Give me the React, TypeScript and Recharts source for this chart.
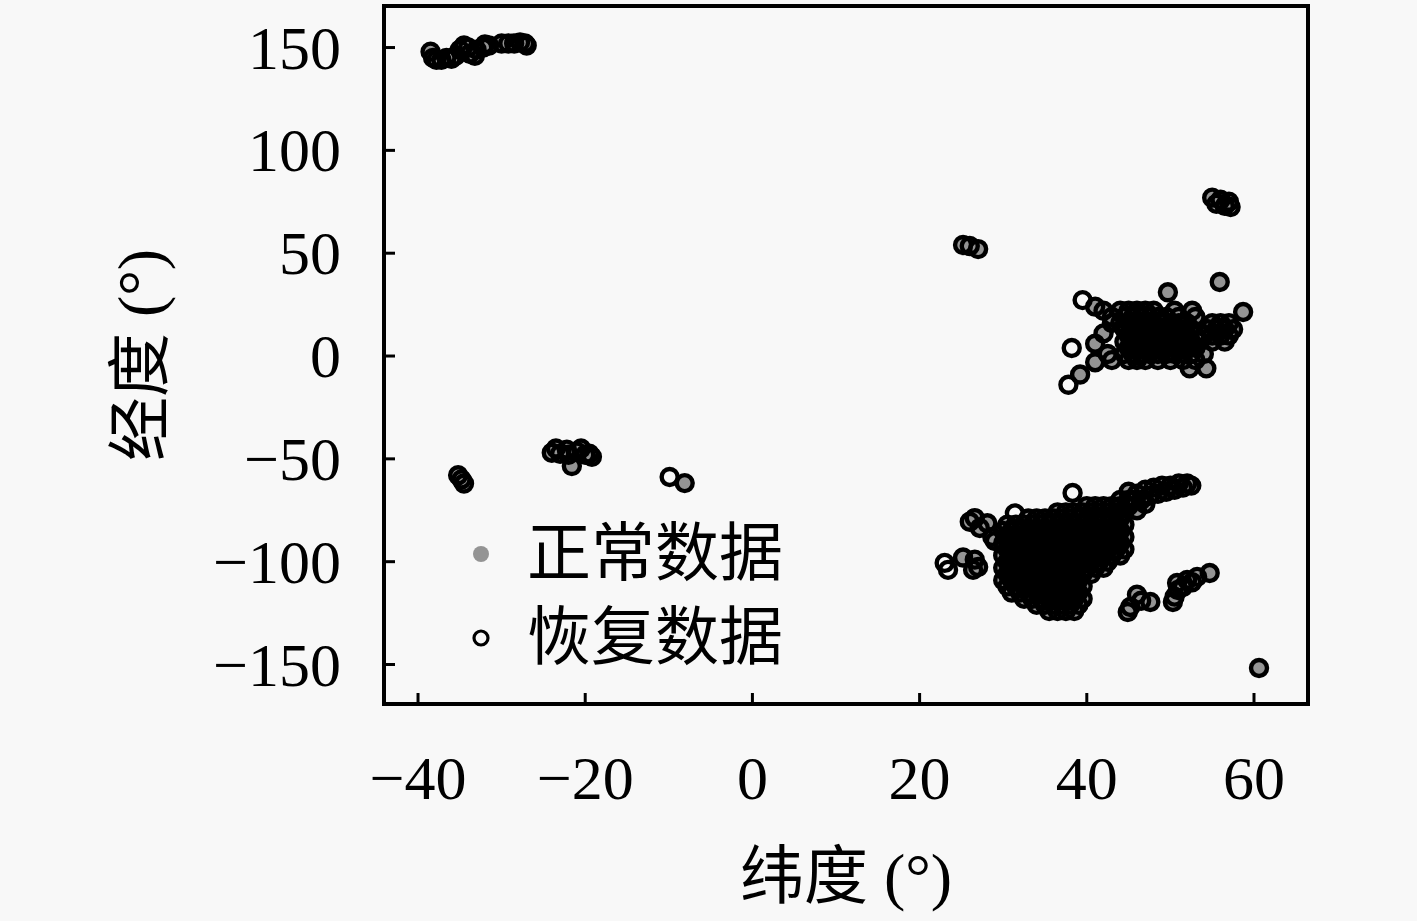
import React from 'react';
import { ScatterChart, Scatter, XAxis, YAxis, ReferenceArea, Legend, Label } from 'recharts';

// each point is [latitude, longitude]
type Pt = [number, number];

const xTicks = [-40, -20, 0, 20, 40, 60];
const yTicks = [-150, -100, -50, 0, 50, 100, 150];
const xDomain = [-44.07, 66.46];
const yDomain = [-169.2, 170.2];

const oceania: Pt[] = [
  [-38.5, 148], [-38.2, 145], [-37.8, 144], [-37.2, 144], [-36.6, 145], [-36, 144.5],
  [-35.5, 146], [-35, 149], [-34.5, 151], [-34, 150], [-33.8, 147], [-33.2, 146],
  [-33, 149], [-32.2, 150], [-32, 151.5], [-31.5, 151], [-30, 152], [-29.2, 152],
  [-28.5, 152], [-27.8, 152.5], [-27.2, 152], [-27, 151],
];

const southAmerica: Pt[] = [
  [-35.2, -58], [-34.8, -60], [-34.5, -62],
  [-24, -47], [-23.5, -45], [-23, -47.5], [-22.2, -45.5], [-22, -48], [-21.6, -53.5],
  [-21, -46.5], [-20.5, -45], [-20, -48], [-19.5, -47.5], [-19.2, -49],
  [-8.1, -61.8],
];

const westAsia: Pt[] = [[25.2, 54], [26, 53.5], [27, 52]];

const centralAsia: Pt[] = [[55, 77], [55.5, 74], [56, 76], [56.5, 73], [57, 75], [57.2, 72.5]];

// dense European cluster, rows of [longitude, latitudes]
const europeRows: [number, number[]][] = [
  [22, [44, 45, 46, 47, 48, 50.5, 52.6]],
  [19, [44.5, 45.5, 46.5, 47.5, 48.5, 49.5, 51, 53]],
  [16, [44, 45, 46, 47, 48, 49, 50, 51, 52, 55, 56, 57]],
  [13, [44.5, 45.5, 46.5, 47.5, 48.5, 49.5, 50.5, 51.5, 52.5, 54.5, 55.5, 56.5, 57.5]],
  [10, [45, 46, 47, 48, 49, 50, 51, 52, 53, 54, 55, 56, 57]],
  [7, [44.5, 45.5, 46.5, 47.5, 48.5, 49.5, 50.5, 51.5, 52.5, 53.5, 55, 56.5]],
  [4, [45, 46, 47, 48, 49, 50, 51, 52, 53]],
  [1, [44.5, 45.5, 46.5, 47.5, 48.5, 49.5, 50.5, 51.5, 52.5, 54]],
  [-2, [45, 46, 47, 48.5, 50, 51.5, 53]],
  [-6, [52.3, 54.3]],
];

const europeEdge: Pt[] = [
  [49.7, 31], [55.9, 36], [58.7, 21.4], [41, 24], [42, 22], [43, 19], [43, 16],
  [42, 11], [41, 6], [41, -3], [39.2, -9], [42.5, 1], [43, -2],
];

// dense North American cluster, rows of [longitude, latitudes]
const usRows: [number, number[]][] = [
  [-70, [44, 45]],
  [-73, [40, 41, 42, 43, 44, 45]],
  [-76, [36.5, 37.5, 38.5, 39.5, 40.5, 41.5, 42.5, 43.5, 44.5]],
  [-79, [33, 34, 35, 36, 37, 38, 39, 40, 41, 42, 43, 44]],
  [-82, [30.5, 31.5, 32.5, 33.5, 34.5, 35.5, 36.5, 37.5, 38.5, 39.5, 40.5, 41.5, 42.5, 43.5, 44.5]],
  [-85, [30, 31, 32, 33, 34, 35, 36, 37, 38, 39, 40, 41, 42, 43, 44]],
  [-88, [30.5, 31.5, 32.5, 33.5, 34.5, 35.5, 36.5, 37.5, 38.5, 39.5, 40.5, 41.5, 42.5, 43.5, 44.5]],
  [-91, [30, 31, 32, 33, 34, 35, 36, 37, 38, 39, 40, 41, 42, 43, 44]],
  [-94, [30.5, 31.5, 32.5, 33.5, 34.5, 35.5, 36.5, 37.5, 38.5, 39.5, 40.5, 41.5, 42.5, 43.5, 44.5]],
  [-97, [30, 31, 32, 33, 34, 35, 36, 37, 38, 39, 40, 41, 42, 43, 44]],
  [-100, [30.5, 31.5, 32.5, 33.5, 34.5, 35.5, 36.5, 37.5, 38.5, 39.5, 40.5, 41.5, 42.5]],
  [-103, [30, 31, 32, 33, 34, 35, 36, 37, 38, 39, 40, 41, 42]],
  [-106, [30.5, 31.5, 32.5, 33.5, 34.5, 35.5, 36.5, 37.5, 38.5, 39.5, 40.5]],
  [-109, [30, 31, 32, 33, 34, 35, 36, 37, 38, 39]],
  [-112, [30.5, 31.5, 32.5, 33.5, 34.5, 35.5, 36.5, 37.5, 38.5, 39.5]],
  [-115, [31, 32, 33, 34, 35, 36, 37, 38, 39]],
  [-118, [32.5, 33.5, 34.5, 35.5, 36.5, 37.5, 38.5, 39.5]],
  [-121, [34, 35, 36, 37, 38, 39]],
  [-124, [35.5, 36.5, 37.5, 38.5]],
];

const usEdge: Pt[] = [
  // north-east band
  [45, -66], [45.5, -70], [46, -67], [46.5, -70], [47, -65], [47.5, -68], [48, -64],
  [48.5, -67], [49, -63], [49.5, -66], [50, -63], [50.5, -65], [51, -62], [51.5, -64],
  [52, -62], [52.5, -63], [46, -75], [47, -72],
  // south-east lobe and gulf
  [26, -80.6], [27.2, -83.6], [26.6, -78.8], [28.1, -81.3], [28.7, -88], [29, -90],
  [25.2, -98], [26.6, -99], [27, -102.6], [26.4, -104],
  // pacific north-west and canada
  [45.2, -122], [44.9, -124.5], [46, -116], [46.5, -119], [47.6, -119.6],
  [54.7, -105.5], [53.2, -107.4], [52, -108.9], [50.8, -110.4], [50.9, -113.8],
  [50.5, -117], [50.3, -119.6], [51.5, -112.3], [52.6, -110],
  [60.6, -151.7],
];

const recoveredOnly: Pt[] = [
  [-9.9, -58.8], [38.3, -66.6], [23, -100.6], [23.4, -104], [39.5, 27.2],
  [38.2, 3.9], [37.8, -14], [31.4, -76.5],
];

const fromRows = (rows: [number, number[]][]): Pt[] =>
  rows.flatMap(([lon, lats]) => lats.map((lat) => [lat, lon] as Pt));

const toData = (pts: Pt[]) => pts.map(([x, y]) => ({ x, y }));

const normalPts: Pt[] = [
  ...oceania, ...southAmerica, ...westAsia, ...centralAsia,
  ...fromRows(europeRows), ...europeEdge, ...fromRows(usRows), ...usEdge,
];
const normalData = toData(normalPts);
const recoveredData = toData([...normalPts, ...recoveredOnly]);

const legendItems = [
  { name: '正常数据', kind: 'normal' },
  { name: '恢复数据', kind: 'recovered' },
];

const FONT = "'Liberation Serif', 'DejaVu Serif', 'Noto Sans CJK SC', serif";
const GREY = '#949494';

const fmt = (v: number) => (v < 0 ? '\u2212' + Math.abs(v) : String(v));

const XTick = ({ x, y, payload }: any) => (
  <g>
    <line x1={x} y1={y} x2={x} y2={y - 11} stroke="#000" strokeWidth={3} />
    <text x={x} y={y + 74} textAnchor="middle" dominantBaseline="central"
      fontFamily={FONT} fontSize={62} fill="#000">{fmt(payload.value)}</text>
  </g>
);

const YTick = ({ x, y, payload }: any) => (
  <g>
    <line x1={x} y1={y} x2={x + 11} y2={y} stroke="#000" strokeWidth={3} />
    <text x={x - 43} y={y} textAnchor="end" dominantBaseline="central"
      fontFamily={FONT} fontSize={62} fill="#000">{fmt(payload.value)}</text>
  </g>
);

const NormalDot = (p: any) => <circle cx={p.cx} cy={p.cy} r={7} fill={GREY} />;
const RecoveredDot = (p: any) => (
  <circle cx={p.cx} cy={p.cy} r={8} fill="none" stroke="#000" strokeWidth={4.4} />
);

const renderLegend = () => (
  <div style={{ fontFamily: FONT, fontSize: 64, color: '#000' }}>
    {legendItems.map((item) => (
      <div key={item.name} style={{ display: 'flex', alignItems: 'center', height: 84 }}>
        <svg width={42} height={84}>
          {item.kind === 'normal' ? (
            <circle cx={21} cy={42} r={8} fill={GREY} />
          ) : (
            <circle cx={21} cy={42} r={7} fill="none" stroke="#000" strokeWidth={3.2} />
          )}
        </svg>
        <span style={{ marginLeft: 25, lineHeight: '84px', whiteSpace: 'nowrap' }}>{item.name}</span>
      </div>
    ))}
  </div>
);

export default function App() {
  return (
    <div style={{ position: 'absolute', left: 0, top: 0, width: 1417, height: 921, background: '#f8f8f8' }}>
      <ScatterChart width={1417} height={921} margin={{ top: 6, right: 109, bottom: 157, left: 284 }}>
        <XAxis dataKey="x" type="number" domain={xDomain} ticks={xTicks} interval={0}
          allowDataOverflow height={60} tickSize={0} tickMargin={0} axisLine={false} tickLine={false} tick={<XTick />}>
          <Label content={({ viewBox }: any) => (
            <text x={viewBox.x + viewBox.width / 2} y={viewBox.y + 172} textAnchor="middle"
              dominantBaseline="central" fontFamily={FONT} fontSize={64} fill="#000">纬度 (°)</text>
          )} />
        </XAxis>
        <YAxis dataKey="y" type="number" domain={yDomain} ticks={yTicks} interval={0}
          allowDataOverflow width={100} tickSize={0} tickMargin={0} axisLine={false} tickLine={false} tick={<YTick />}>
          <Label content={({ viewBox }: any) => {
            const cx = viewBox.x + viewBox.width - 244;
            const cy = viewBox.y + viewBox.height / 2;
            return (
              <text x={cx} y={cy} transform={`rotate(-90 ${cx} ${cy})`} textAnchor="middle"
                dominantBaseline="central" fontFamily={FONT} fontSize={64} fill="#000">经度 (°)</text>
            );
          }} />
        </YAxis>
        <ReferenceArea x1={xDomain[0]} x2={xDomain[1]} y1={yDomain[0]} y2={yDomain[1]}
          fill="none" stroke="#000" strokeWidth={4} ifOverflow="visible" />
        <Scatter name="正常数据" data={normalData} shape={NormalDot} isAnimationActive={false} />
        <Scatter name="恢复数据" data={recoveredData} shape={RecoveredDot} isAnimationActive={false} />
        <Legend layout="vertical" align="center" verticalAlign="middle" content={renderLegend}
          wrapperStyle={{ left: 460, top: 512, width: 'auto' }} />
      </ScatterChart>
    </div>
  );
}
